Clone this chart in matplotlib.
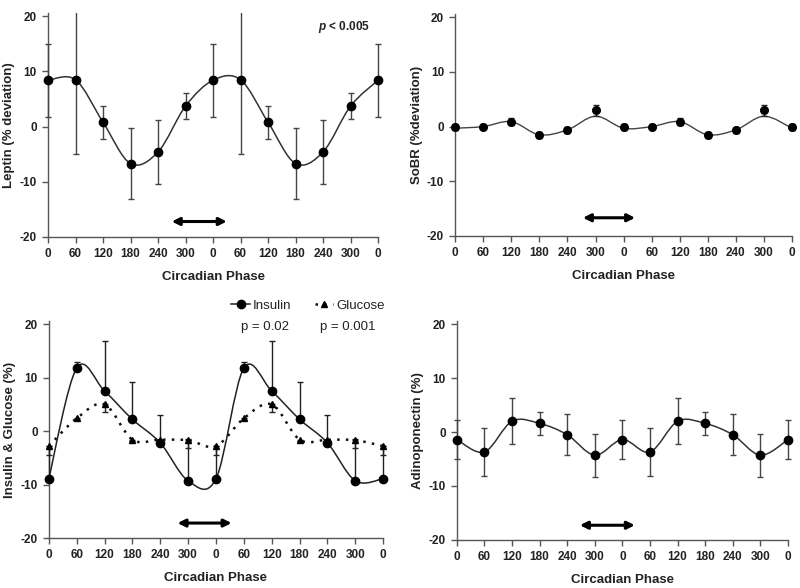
import numpy as np
import matplotlib
matplotlib.use("Agg")
import matplotlib.pyplot as plt
from matplotlib.path import Path
from matplotlib.patches import PathPatch, Rectangle
from matplotlib.lines import Line2D

plt.rcParams['font.family'] = ['Liberation Sans', 'DejaVu Sans']
plt.rcParams['axes.unicode_minus'] = False
plt.rcParams['mathtext.fontset'] = 'custom'
plt.rcParams['mathtext.bfit'] = 'Liberation Sans:italic:bold'

phase_labels = ["0", "60", "120", "180", "240", "300", "0", "60", "120", "180", "240", "300", "0"]

# Leptin (% deviation) - one cycle, repeated twice
leptin = [8.4, 8.5, 0.8, -6.7, -4.6, 3.7]
leptin_err = [6.6, 13.5, 3.0, 6.4, 5.8, 2.4]

# SoBR
sobr = [-0.1, 0.0, 0.9, -1.5, -0.6, 3.0]
sobr_err = [0.6, 0.4, 0.6, 0.5, 0.5, 1.0]
sobr_fit = [-0.3, 0.0, 0.9, -1.5, -0.6, 1.9]

# Insulin & Glucose (%)
insulin = [-8.9, 11.8, 7.5, 2.2, -2.2, -9.3]
insulin_err_up = [6.1, 1.2, 9.3, 7.0, 5.3, 7.8]
glucose = [-2.8, 2.4, 5.0, -1.6, -1.6, -1.7]
glucose_err_dn = [1.7, 0.4, 1.5, 0.3, 0.3, 1.4]

# Adiponectin (%)
adipo = [-1.4, -3.7, 2.0, 1.6, -0.5, -4.3]
adipo_err = [3.6, 4.4, 4.3, 2.1, 3.8, 4.0]


def two_cycles(v):
    return list(v) * 2 + [v[0]]


X = np.arange(len(phase_labels))


def smooth_line(ax, x, y, t=1 / 6, **kw):
    P = np.column_stack([x, y]).astype(float)
    n = len(P)
    verts = [tuple(P[0])]
    codes = [Path.MOVETO]
    for i in range(n - 1):
        pp = P[i - 1] if i > 0 else P[i]
        pn = P[i + 2] if i + 2 < n else P[i + 1]
        c1 = P[i] + (P[i + 1] - pp) * t
        c2 = P[i + 1] - (pn - P[i]) * t
        verts += [tuple(c1), tuple(c2), tuple(P[i + 1])]
        codes += [Path.CURVE4] * 3
    patch = PathPatch(Path(verts, codes), fill=False, **kw)
    ax.add_patch(patch)
    return patch


def clip_y_only(ax, artists):
    rect = Rectangle((-0.05, 0), 1.1, 1.0, transform=ax.transAxes, fill=False, visible=False)
    ax.add_patch(rect)
    for a in artists:
        a.set_clip_path(rect)


def ebar(ax, x, y, yerr, color):
    cont = ax.errorbar(x, y, yerr=yerr, fmt="none", ecolor=color, elinewidth=1.0,
                       capsize=2, capthick=1.0, zorder=3)
    arts = list(cont.lines[1]) + list(cont.lines[2])
    clip_y_only(ax, arts)
    return cont


def style_axes(ax, ylabel):
    ax.set_xlim(0, 12)
    ax.set_ylim(-20, 20.6)
    ax.set_yticks([-20, -10, 0, 10, 20])
    ax.set_xticks(X)
    ax.set_xticklabels(phase_labels)
    for s in ["top", "right"]:
        ax.spines[s].set_visible(False)
    for s in ["left", "bottom"]:
        ax.spines[s].set_color("#555555")
        ax.spines[s].set_linewidth(1.0)
    ax.tick_params(direction="out", length=4, width=1.0, color="#555555",
                   labelsize=8.5, labelcolor="#222222", pad=4)
    for lab in ax.get_xticklabels() + ax.get_yticklabels():
        lab.set_fontweight("bold")
    ax.set_xlabel("Circadian Phase", fontsize=9.5, fontweight="bold", color="#222222", labelpad=8)
    ax.set_ylabel(ylabel, fontsize=9.5, fontweight="bold", color="#222222", labelpad=3)


def arrow(ax, x0, x1, y):
    ax.annotate("", xy=(x1, y), xytext=(x0, y),
                arrowprops=dict(arrowstyle="<|-|>", color="black", lw=2.2,
                                mutation_scale=11, shrinkA=0, shrinkB=0))


fig = plt.figure(figsize=(8, 5.88), dpi=100)

# --- Panel 1: Leptin ---
ax1 = fig.add_axes([0.06, 0.597, 0.4125, 0.381])
y = two_cycles(leptin)
e = two_cycles(leptin_err)
smooth_line(ax1, X, y, edgecolor="#333333", lw=1.1, zorder=2)
ebar(ax1, X, y, e, "#444444")
ax1.plot(X, y, "o", color="black", ms=6, zorder=4, clip_on=False)
style_axes(ax1, "Leptin (% deviation)")
ax1.text(10.78, 18.0, r"$\bfit{p}$" + " < 0.005", fontsize=8.5, fontweight="bold", ha="center", va="center", color="#222222")
arrow(ax1, 4.5, 6.5, -17.2)

# --- Panel 2: SoBR ---
ax2 = fig.add_axes([0.569, 0.599, 0.421, 0.377])
y = two_cycles(sobr)
e = two_cycles(sobr_err)
smooth_line(ax2, X, two_cycles(sobr_fit), edgecolor="#444444", lw=1.0, zorder=2)
ebar(ax2, X, y, e, "#222222")
ax2.plot(X, y, "o", color="black", ms=5.5, zorder=4, clip_on=False)
style_axes(ax2, "SoBR (%deviation)")
arrow(ax2, 4.55, 6.41, -16.7)

# --- Panel 3: Insulin & Glucose ---
ax3 = fig.add_axes([0.061, 0.085, 0.418, 0.369])
yi = two_cycles(insulin)
ei = two_cycles(insulin_err_up)
yg = two_cycles(glucose)
eg = two_cycles(glucose_err_dn)
smooth_line(ax3, X, yi, edgecolor="#222222", lw=1.1, zorder=2)
smooth_line(ax3, X, yg, edgecolor="#111111", lw=1.8, linestyle=(0, (1.0, 2.5)), zorder=2)
ebar(ax3, X, yi, [np.zeros(len(ei)), ei], "#222222")
ebar(ax3, X, yg, [eg, np.zeros(len(eg))], "#222222")
ax3.plot(X, yi, "o", color="black", ms=6, zorder=4, clip_on=False)
ax3.plot(X, yg, "^", color="black", ms=4.5, zorder=4, clip_on=False)
style_axes(ax3, "Insulin & Glucose (%)")
h1 = Line2D([], [], color="#222222", lw=1.1, marker="o", ms=6, mfc="black", mec="black")
h2 = Line2D([], [], color="#111111", lw=1.8, linestyle=(0, (1.0, 2.5)), marker="^", ms=4.5,
            mfc="black", mec="black")
ax3.legend([h1, h2], ["Insulin", "Glucose"], ncol=2, frameon=False, fontsize=9.5,
           loc="center", bbox_to_anchor=(0.775, 1.07), handlelength=1.4, handletextpad=0.2,
           columnspacing=1.8, labelcolor="#222222")
ax3.text(7.76, 19.4, "p = 0.02", fontsize=9.5, ha="center", va="center", color="#222222")
ax3.text(10.74, 19.4, "p = 0.001", fontsize=9.5, ha="center", va="center", color="#222222")
arrow(ax3, 4.62, 6.56, -17.2)

# --- Panel 4: Adiponectin ---
ax4 = fig.add_axes([0.571, 0.082, 0.414, 0.372])
y = two_cycles(adipo)
e = two_cycles(adipo_err)
smooth_line(ax4, X, y, edgecolor="#333333", lw=1.1, zorder=2)
ebar(ax4, X, y, e, "#444444")
ax4.plot(X, y, "o", color="black", ms=6, zorder=4, clip_on=False)
style_axes(ax4, "Adinoponectin (%)")
arrow(ax4, 4.46, 6.45, -17.3)

fig.savefig("out.png", dpi=100, facecolor="white")
